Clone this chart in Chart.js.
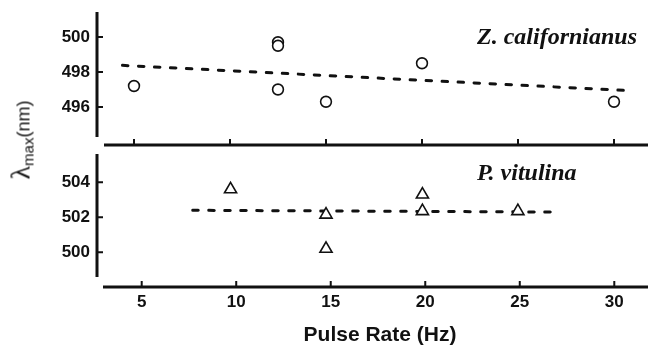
<!DOCTYPE html>
<html>
<head>
<meta charset="utf-8">
<script src="https://cdn.jsdelivr.net/npm/chart.js@4"></script>
<style>
  html, body { margin: 0; padding: 0; background: #fff; overflow: hidden; }
  #wrap { position: relative; width: 648px; height: 349px; overflow: hidden; }
  #top { position: absolute; left: 0; top: 0; }
  #bottom { position: absolute; left: 0; top: 150px; }
  #ytitle {
    position: absolute; left: 21px; top: 140px;
    transform: translate(-50%, -50%) rotate(-90deg);
    white-space: nowrap; line-height: 1;
    font-family: "Liberation Sans", Arial, sans-serif; font-size: 18px; color: #111;
  }
  #ytitle .lam { font-family: "Liberation Serif", serif; font-size: 28px; }
  #ytitle sub { font-size: 15px; vertical-align: -4px; }
</style>
</head>
<body>
<div id="wrap">
<canvas id="top" width="648" height="150"></canvas>
<canvas id="bottom" width="663" height="199"></canvas>
<div id="ytitle"><span class="lam">λ</span><sub>max</sub>(nm)</div>
</div>
<script>
// Z. californianus (circles) and fit
const zcRate = [5, 12.5, 12.5, 12.5, 15, 20, 30]
const zcLambda = [497.2, 499.7, 499.5, 497.0, 496.3, 498.5, 496.3]
const zcFitRate = [4.4, 30.9]
const zcFitLambda = [498.38, 496.93]

// P. vitulina (triangles) and fit
const pvRate = [9.7, 14.75, 14.75, 19.85, 19.85, 24.9]
const pvLambda = [503.6, 502.15, 500.2, 503.3, 502.35, 502.35]
const pvFitRate = [7.7, 26.9]
const pvFitLambda = [502.4, 502.3]

const rateTicks = [5, 10, 15, 20, 25, 30]
const zcTicks = [496, 498, 500]
const pvTicks = [500, 502, 504]

const ink = '#111'
Chart.defaults.font.family = '"Liberation Sans", Arial, sans-serif'
Chart.defaults.color = ink

const toPoints = (xs, ys) => xs.map((x, i) => ({x: x, y: ys[i]}))

// no label overhang padding, the ticks sit well inside the axes
const noPad = s => {
    s.paddingTop = 0
    s.paddingBottom = 0
    s.paddingLeft = 0
    s.paddingRight = 0
}

// axis lines with a gap at the corner, inward ticks, species label
const frame = {
    id: 'frame',
    afterDraw(chart, args, opts) {
        const {ctx, chartArea: a, scales: {x, y}} = chart
        ctx.save()
        ctx.strokeStyle = ink
        ctx.lineWidth = 3
        ctx.beginPath()
        ctx.moveTo(a.left, a.top)
        ctx.lineTo(a.left, a.bottom - opts.gapY)
        ctx.moveTo(a.left + opts.gapX, a.bottom)
        ctx.lineTo(a.right, a.bottom)
        ctx.stroke()
        ctx.lineWidth = 2
        ctx.beginPath()
        opts.yTicks.forEach(v => {
            const py = y.getPixelForValue(v)
            ctx.moveTo(a.left, py)
            ctx.lineTo(a.left + 6, py)
        })
        rateTicks.forEach(v => {
            const px = x.getPixelForValue(v)
            ctx.moveTo(px, a.bottom)
            ctx.lineTo(px, a.bottom - 6)
        })
        ctx.stroke()
        ctx.fillStyle = ink
        ctx.font = 'italic bold 24px "Liberation Serif", "Times New Roman", serif'
        ctx.textBaseline = 'alphabetic'
        ctx.fillText(opts.label, opts.labelX, opts.labelY)
        ctx.restore()
    }
}

const yScale = (min, max, ticks) => ({
    min: min,
    max: max,
    grid: {display: false, drawTicks: false},
    border: {display: false},
    ticks: {padding: 7, font: {size: 17, weight: 'bold'}},
    afterBuildTicks: s => { s.ticks = ticks.map(v => ({value: v})) },
    afterFit: s => { s.width = 97; noPad(s) }
})

const fitLine = (xs, ys) => ({
    type: 'line',
    data: toPoints(xs, ys),
    showLine: true,
    borderColor: ink,
    borderWidth: 3,
    borderDash: [5.5, 10.5],
    borderCapStyle: 'round',
    pointRadius: 0
})

const topChart = new Chart(document.getElementById('top'), {
    type: 'scatter',
    data: {
        datasets: [{
            data: toPoints(zcRate, zcLambda),
            pointStyle: 'circle',
            pointRadius: 5.4,
            borderWidth: 1.6,
            borderColor: ink,
            backgroundColor: '#fff'
        }, fitLine(zcFitRate, zcFitLambda)]
    },
    options: {
        responsive: false,
        animation: false,
        devicePixelRatio: 1,
        layout: {autoPadding: false, padding: {top: 12, left: 0, right: 0, bottom: 0}},
        plugins: {
            legend: {display: false},
            tooltip: {enabled: false},
            frame: {gapX: 7, gapY: 8, yTicks: zcTicks, label: 'Z. californianus', labelX: 477, labelY: 44}
        },
        scales: {
            x: {
                type: 'linear',
                min: 3.073,
                max: 31.771,
                grid: {display: false, drawTicks: false},
                border: {display: false},
                ticks: {display: false},
                afterFit: s => { s.height = 5; noPad(s) }
            },
            y: yScale(493.829, 501.429, zcTicks)
        }
    },
    plugins: [frame]
})

const bottomChart = new Chart(document.getElementById('bottom'), {
    type: 'scatter',
    data: {
        datasets: [{
            data: toPoints(pvRate, pvLambda),
            pointStyle: 'triangle',
            pointRadius: 7,
            borderWidth: 1.6,
            borderColor: ink,
            backgroundColor: '#fff'
        }, fitLine(pvFitRate, pvFitLambda)]
    },
    options: {
        responsive: false,
        animation: false,
        devicePixelRatio: 1,
        layout: {autoPadding: false, padding: {top: 4, left: 0, right: 0, bottom: 0}},
        plugins: {
            legend: {display: false},
            tooltip: {enabled: false},
            frame: {gapX: 6, gapY: 10, yTicks: pvTicks, label: 'P. vitulina', labelX: 477, labelY: 30}
        },
        scales: {
            x: {
                type: 'linear',
                min: 2.635,
                max: 32.577,
                grid: {display: false, drawTicks: false},
                border: {display: false},
                ticks: {padding: 5, font: {size: 17, weight: 'bold'}},
                afterBuildTicks: s => { s.ticks = rateTicks.map(v => ({value: v})) },
                title: {
                    display: true,
                    text: 'Pulse Rate (Hz)',
                    font: {size: 21, weight: 'bold'},
                    padding: {top: 0, bottom: 1}
                },
                afterFit: s => { s.height = 62; noPad(s) }
            },
            y: yScale(498.017, 505.617, pvTicks)
        }
    },
    plugins: [frame]
})
</script>
</body>
</html>
